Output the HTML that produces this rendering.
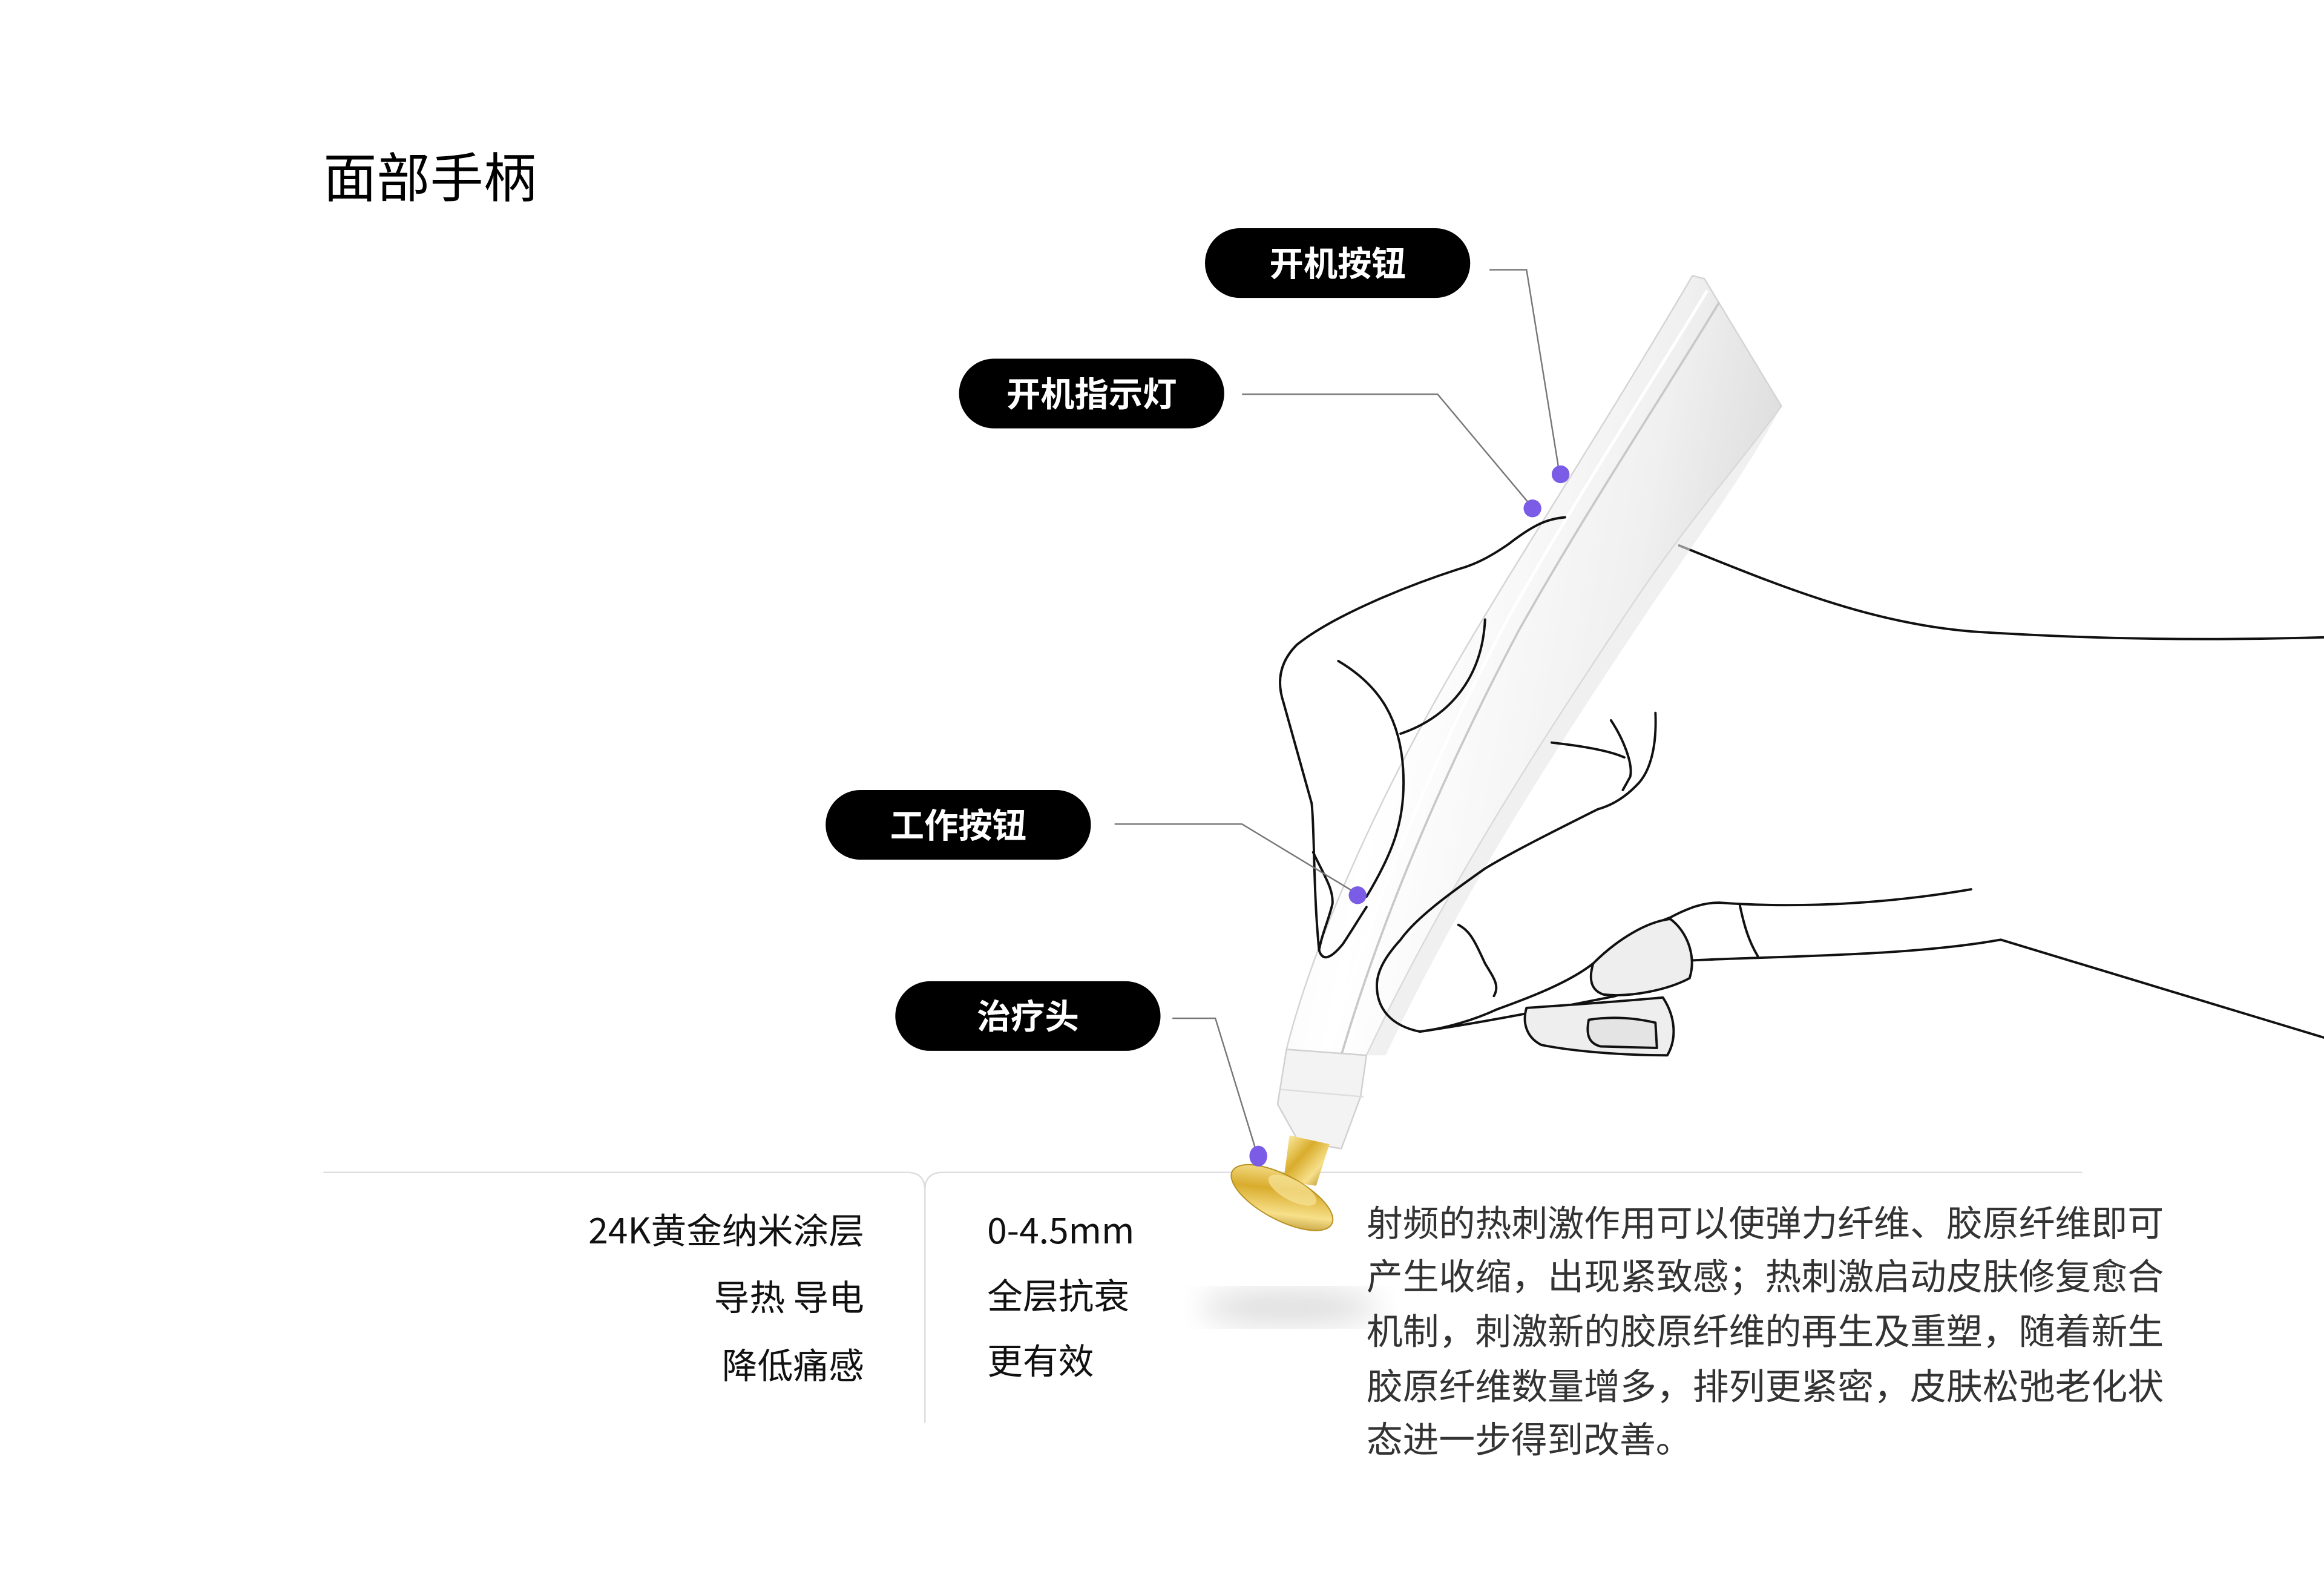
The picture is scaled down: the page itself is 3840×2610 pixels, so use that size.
<!DOCTYPE html>
<html><head><meta charset="utf-8"><style>
html,body{margin:0;padding:0;background:#fff;}
svg{display:block}
text{font-family:"Noto Sans CJK SC","Liberation Sans",sans-serif;}
</style></head><body>
<svg width="3840" height="2610" viewBox="0 0 1568 1066" xmlns="http://www.w3.org/2000/svg">
<defs>
<linearGradient id="pen" x1="0" y1="0" x2="1" y2="0.3">
<stop offset="0" stop-color="#f2f2f2"/><stop offset="0.35" stop-color="#ffffff"/><stop offset="0.75" stop-color="#f0f0f0"/><stop offset="1" stop-color="#dcdcdc"/>
</linearGradient>
<linearGradient id="gold" x1="0" y1="0" x2="1" y2="1">
<stop offset="0" stop-color="#fff3b0"/><stop offset="0.4" stop-color="#d9ac2c"/><stop offset="0.7" stop-color="#f7e08a"/><stop offset="1" stop-color="#a87a12"/>
</linearGradient>
<filter id="blur"><feGaussianBlur stdDeviation="10"/></filter>
</defs>
<rect width="1568" height="1066" fill="#fff"/>
<text x="218" y="133" font-size="36" fill="#000">面部手柄</text>

<path d="M218,791 L612,791 Q624,791 624,803 L624,960" fill="none" stroke="#ddd" stroke-width="1"/>
<path d="M624,803 Q624,791 636,791 L1405,791" fill="none" stroke="#ddd" stroke-width="1"/>

<ellipse cx="870" cy="882" rx="60" ry="12" fill="#bbb" opacity="0.5" filter="url(#blur)"/>

<g fill="none" stroke="#111" stroke-width="1.6" stroke-linecap="round" stroke-linejoin="round">
<path d="M1133,368 C1200,395 1260,420 1330,426 C1420,432 1500,432 1568,430"/>
</g>

<!-- pen body -->
<path d="M1142,186 L1150,188 L1202,274 C1175,312 1140,350 1100,410 C1040,500 975,600 922,712 L868,708 C885,640 925,550 970,470 C1015,390 1075,300 1142,186 Z" fill="url(#pen)" stroke="#d4d4d4" stroke-width="1"/>
<path d="M1202,274 C1175,312 1140,350 1100,410 C1040,500 975,600 922,712 L935,712 C985,605 1050,505 1110,415 C1150,356 1180,316 1202,274 Z" fill="#e6e6e6" opacity="0.6"/>
<path d="M1160,204 C1120,270 1070,345 1025,425 C980,510 935,610 905,712" fill="none" stroke="#c8c8c8" stroke-width="1.5"/>
<path d="M1152,196 C1112,262 1062,338 1017,418 C972,503 927,603 897,710" fill="none" stroke="#fff" stroke-width="2"/>
<path d="M868,708 L922,712 L918,740 L905,775 L876,770 L862,745 Z" fill="#f3f3f3" stroke="#d0d0d0" stroke-width="1"/>
<path d="M864,735 L920,740" stroke="#ddd" stroke-width="1"/>
<path d="M870,766 L897,772 L888,800 L866,797 Z" fill="url(#gold)"/>
<ellipse cx="865" cy="808" rx="38" ry="15" transform="rotate(28 865 808)" fill="url(#gold)" stroke="#b8901e" stroke-width="0.8"/>
<ellipse cx="872" cy="803" rx="18" ry="7" transform="rotate(28 872 803)" fill="#f8e49a" opacity="0.7"/>

<g fill="none" stroke="#111" stroke-width="1.6" stroke-linecap="round" stroke-linejoin="round">
<path d="M1056,349 C1045,350 1036,353 1018,367 C1005,376 995,381 984,384 C950,395 900,415 875,435 C862,448 862,462 866,474 L885,542 C887,560 886,600 890,641 C892,648 897,648 906,637 C912,628 918,618 922,612"/>
<path d="M886,575 C893,590 900,600 899,610 C896,622 892,630 890,641"/>
<path d="M903,446 C930,462 947,485 947,528 C947,555 940,575 922,605"/>
<path d="M945,495 C975,485 1000,460 1002,418"/>
<path d="M1047,501 C1065,503 1085,506 1096,511"/>
<path d="M1087,486 C1095,498 1102,515 1100,524 L1095,533"/>
<path d="M1117,481 C1118,505 1113,520 1106,528 C1095,540 1085,544 1078,546 C1050,560 1020,575 1002,586 C975,605 955,620 945,634 C935,645 929,655 929,665 C929,680 938,692 958,696 C975,694 995,688 1010,681"/>
<path d="M958,696 C1000,690 1050,680 1090,672 C1110,665 1125,658 1140,648 C1200,645 1290,645 1350,634 L1568,700"/>
<path d="M984,624 C992,628 995,635 1002,650 C1008,660 1012,665 1008,672"/>
<path d="M1010,681 C1035,672 1060,662 1075,650 C1090,638 1110,625 1127,619 C1140,612 1150,609 1160,609 C1200,612 1260,612 1330,600"/>
<path d="M1174,611 C1177,625 1180,635 1186,645"/>
<path d="M1075,650 C1072,660 1073,668 1082,671 C1100,673 1125,668 1140,660 C1145,645 1138,628 1127,620 C1110,622 1090,635 1075,650 Z" fill="#eeeeee"/>
<path d="M1030,680 C1027,690 1030,700 1040,705 C1065,710 1100,712 1125,712 C1132,700 1130,685 1122,673 C1100,675 1060,678 1030,680 Z" fill="#eeeeee"/>
<path d="M1072,688 C1070,698 1072,704 1080,706 L1118,707 L1117,690 C1100,686 1085,686 1072,688 Z" fill="#e4e4e4"/>
</g>

<g fill="none" stroke="#777" stroke-width="1">
<path d="M1005,182 L1030,182 L1052,318"/>
<path d="M838,266 L970,266 L1032,340"/>
<path d="M752,556 L838,556 L914,602"/>
<path d="M791,687 L820,687 L848,778"/>
</g>
<g fill="#7b5ce6">
<ellipse cx="1053" cy="320" rx="6" ry="6"/>
<ellipse cx="1034" cy="343" rx="6" ry="6"/>
<ellipse cx="916" cy="604" rx="6" ry="6"/>
<ellipse cx="849" cy="780" rx="6" ry="7"/>
</g>

<g>
<rect x="813" y="154" width="179" height="47" rx="23.5" fill="#000"/>
<text x="902.5" y="186" font-size="23" font-weight="bold" fill="#fff" text-anchor="middle">开机按钮</text>
<rect x="647" y="242" width="179" height="47" rx="23.5" fill="#000"/>
<text x="736.5" y="274" font-size="23" font-weight="bold" fill="#fff" text-anchor="middle">开机指示灯</text>
<rect x="557" y="533" width="179" height="47" rx="23.5" fill="#000"/>
<text x="646.5" y="565" font-size="23" font-weight="bold" fill="#fff" text-anchor="middle">工作按钮</text>
<rect x="604" y="662" width="179" height="47" rx="23.5" fill="#000"/>
<text x="693.5" y="694" font-size="23" font-weight="bold" fill="#fff" text-anchor="middle">治疗头</text>
</g>

<g font-size="24" fill="#111">
<text x="583" y="839" text-anchor="end">24K黄金纳米涂层</text>
<text x="583" y="884" text-anchor="end">导热 导电</text>
<text x="583" y="930" text-anchor="end">降低痛感</text>
<text x="666" y="839">0-4.5mm</text>
<text x="666" y="883">全层抗衰</text>
<text x="666" y="927">更有效</text>
</g>
<g font-size="24.4" fill="#333">
<text x="922" y="834" textLength="538" lengthAdjust="spacingAndGlyphs">射频的热刺激作用可以使弹力纤维、胶原纤维即可</text>
<text x="922" y="870" textLength="538" lengthAdjust="spacingAndGlyphs">产生收缩，出现紧致感；热刺激启动皮肤修复愈合</text>
<text x="922" y="907" textLength="538" lengthAdjust="spacingAndGlyphs">机制，刺激新的胶原纤维的再生及重塑，随着新生</text>
<text x="922" y="944" textLength="538" lengthAdjust="spacingAndGlyphs">胶原纤维数量增多，排列更紧密，皮肤松弛老化状</text>
<text x="922" y="980">态进一步得到改善。</text>
</g>
</svg>
</body></html>
